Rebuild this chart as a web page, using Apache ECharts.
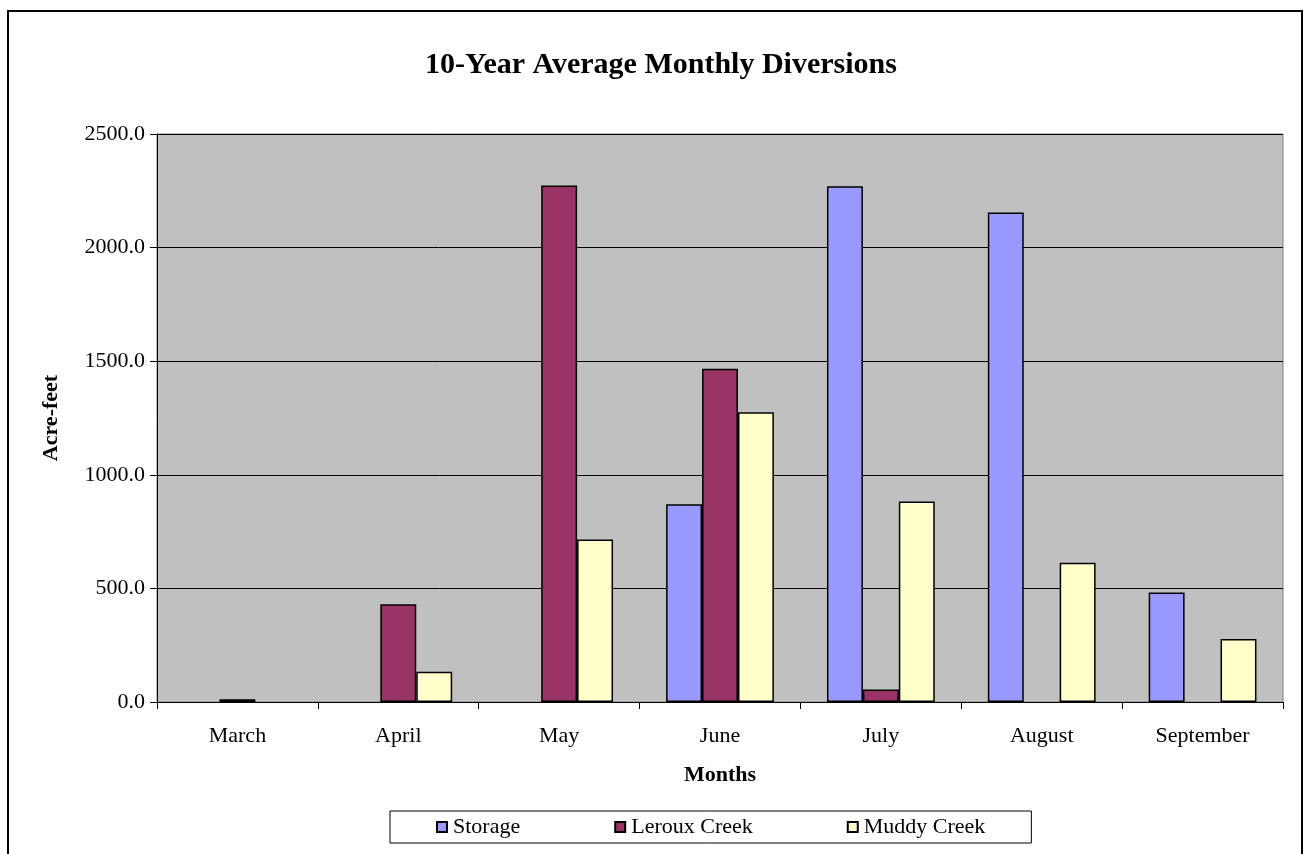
<!DOCTYPE html>
<html>
<head>
<meta charset="utf-8">
<title>10-Year Average Monthly Diversions</title>
<script src="https://cdn.jsdelivr.net/npm/echarts@6/dist/echarts.min.js"></script>
<style>
  html, body { margin: 0; padding: 0; background: #ffffff; }
  #chart { width: 1304px; height: 854px; }
</style>
</head>
<body>
<div id="chart"></div>
<script>
// Months on the category axis
const months = ['March', 'April', 'May', 'June', 'July', 'August', 'September'];

// 10-year average diversions, acre-feet
const storage     = [0, 0, 0, 870, 2270, 2155, 482];
const lerouxCreek = [12, 430, 2273, 1467, 55, 0, 0];
const muddyCreek  = [0, 133, 715, 1275, 882, 613, 277];

// Value axis ticks
const yMin = 0;
const yMax = 2500;
const yStep = 500;

const serif = '"Liberation Serif", "Times New Roman", "DejaVu Serif", serif';

const chart = echarts.init(document.getElementById('chart'), null, { renderer: 'canvas' });

function barSeries(name, data, color) {
  return {
    name: name,
    type: 'bar',
    // zero months get no outline, so no flat sliver is drawn on the axis
    data: data.map(function (v) {
      return v === 0 ? { value: v, itemStyle: { borderWidth: 0 } } : v;
    }),
    barGap: '0%',
    barCategoryGap: '33%',
    itemStyle: { color: color, borderColor: '#000000', borderWidth: 1.5 },
    emphasis: { disabled: true }
  };
}

chart.setOption({
  animation: false,
  backgroundColor: '#ffffff',
  textStyle: { fontFamily: serif, color: '#000000' },
  title: {
    text: '10-Year Average Monthly Diversions',
    left: 656,
    top: 45,
    textAlign: 'center',
    textStyle: { fontFamily: serif, fontSize: 30, fontWeight: 'bold', color: '#000000' }
  },
  graphic: [{
    type: 'rect',
    shape: { x: 8, y: 11, width: 1294, height: 900 },
    style: { fill: 'none', stroke: '#000000', lineWidth: 2 },
    silent: true
  }],
  legend: {
    left: 390,
    top: 811,
    padding: [5, 46, 5, 46],
    itemGap: 94,
    itemWidth: 10,
    itemHeight: 10,
    icon: 'rect',
    borderColor: '#000000',
    borderWidth: 1,
    backgroundColor: '#ffffff',
    textStyle: { fontFamily: serif, fontSize: 22, color: '#000000', padding: [0, 0, 0, 1] },
    data: ['Storage', 'Leroux Creek', 'Muddy Creek']
  },
  grid: {
    left: 157,
    right: 21,
    top: 134,
    bottom: 152,
    show: true,
    backgroundColor: '#C0C0C0',
    borderColor: '#808080',
    borderWidth: 1
  },
  xAxis: {
    type: 'category',
    data: months,
    name: 'Months',
    nameLocation: 'middle',
    nameGap: 62,
    nameTextStyle: { fontFamily: serif, fontSize: 22, fontWeight: 'bold', color: '#000000' },
    axisLine: { lineStyle: { color: '#000000', width: 1 } },
    axisTick: { show: true, length: 7, lineStyle: { color: '#000000' } },
    axisLabel: { fontFamily: serif, fontSize: 22, color: '#000000', margin: 23 },
    splitLine: { show: false }
  },
  yAxis: {
    type: 'value',
    min: yMin,
    max: yMax,
    interval: yStep,
    name: 'Acre-feet',
    nameLocation: 'middle',
    nameGap: 95,
    nameRotate: 90,
    nameTextStyle: { fontFamily: serif, fontSize: 22, fontWeight: 'bold', color: '#000000' },
    axisLine: { show: true, lineStyle: { color: '#000000', width: 1 } },
    axisTick: { show: true, length: 7, lineStyle: { color: '#000000' } },
    axisLabel: {
      fontFamily: serif, fontSize: 22, color: '#000000', margin: 12,
      formatter: function (v) { return v.toFixed(1); }
    },
    splitLine: { show: true, lineStyle: { color: '#000000', width: 1 } }
  },
  series: [
    barSeries('Storage', storage, '#9999FF'),
    barSeries('Leroux Creek', lerouxCreek, '#993366'),
    barSeries('Muddy Creek', muddyCreek, '#FFFFCC')
  ]
});
</script>
</body>
</html>
